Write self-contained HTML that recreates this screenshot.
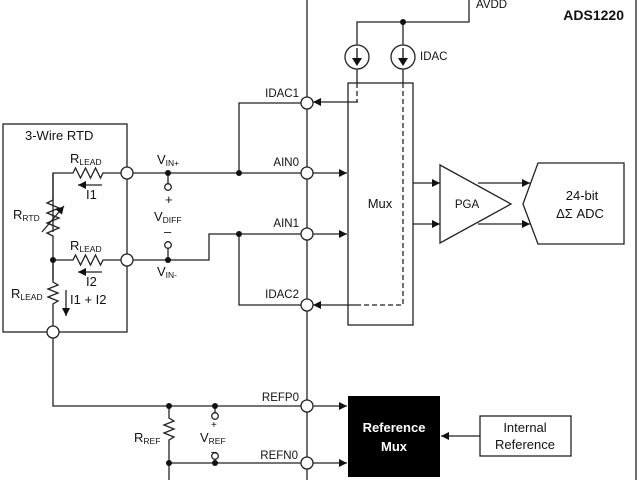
<!DOCTYPE html>
<html><head><meta charset="utf-8"><style>
html,body{margin:0;padding:0;background:#fff}
svg{display:block}
text{font-family:"Liberation Sans",Arial,sans-serif;font-size:13px;fill:#111}
.s{font-size:8.5px}
</style></head><body>
<svg width="640" height="480" viewBox="0 0 640 480" xmlns="http://www.w3.org/2000/svg">
<defs>
<marker id="a" viewBox="0 0 10 10" refX="10" refY="5" markerWidth="8" markerHeight="8" orient="auto" markerUnits="userSpaceOnUse"><path d="M0,0 L10,5 L0,10z" fill="#111"/></marker>
</defs>
<g stroke="#222" stroke-width="1.3" fill="none">
<line x1="307" y1="0" x2="307" y2="480"/>
<line x1="636" y1="0" x2="636" y2="480"/>
<rect x="3" y="124" width="124" height="208"/>
<path d="M53,232 L53,173 L73,173 l2.5,-5 l5,10 l5,-10 l5,10 l5,-10 l5,10 l2.5,-5 L127,173"/>
<line x1="102" y1="185" x2="78" y2="185" marker-end="url(#a)"/>
<path d="M53,173 L53,200 l-6,3 l12,5 l-12,5 l12,5 l-12,5 l12,5 l-12,5 l6,3 L53,280"/>
<line x1="42" y1="232" x2="64" y2="206" marker-end="url(#a)"/>
<path d="M53,260 L73,260 l2.5,-5 l5,10 l5,-10 l5,10 l5,-10 l5,10 l2.5,-5 L127,260"/>
<line x1="102" y1="272" x2="78" y2="272" marker-end="url(#a)"/>
<path d="M53,260 L53,282 l5,3 l-10,4 l10,4 l-10,4 l10,4 l-5,3 L53,326"/>
<line x1="66" y1="290" x2="66" y2="316" marker-end="url(#a)"/>
<line x1="133" y1="173" x2="301" y2="173"/>
<path d="M133,260 L209,260 L209,234 L301,234"/>
<path d="M239,173 L239,103 L301,103"/>
<path d="M239,234 L239,305 L301,305"/>
<line x1="168" y1="173" x2="168" y2="184"/>
<line x1="168" y1="248" x2="168" y2="260"/>
<path d="M53,338 L53,406 L301,406"/>
<line x1="169" y1="463" x2="301" y2="463"/>
<path d="M169,406 L169,418 l5,3 l-10,4 l10,4 l-10,4 l10,4 l-5,3 L169,480"/>
<line x1="215" y1="406" x2="215" y2="413"/>
<line x1="215" y1="459" x2="215" y2="463"/>
<path d="M357,45 L357,22 L469,22 L469,0"/>
<line x1="403" y1="22" x2="403" y2="45"/>
<circle cx="357" cy="57" r="12"/>
<circle cx="403" cy="57" r="12"/>
<line x1="357" y1="69" x2="357" y2="83"/>
<line x1="403" y1="69" x2="403" y2="83"/>
<rect x="348" y="83" width="65" height="242"/>
<path d="M357,83 L357,102" stroke-dasharray="5,3"/>
<path d="M403,83 L403,305 L358,305" stroke-dasharray="5,3"/>
<line x1="358" y1="102" x2="313" y2="102" marker-end="url(#a)"/>
<line x1="358" y1="305" x2="313" y2="305" marker-end="url(#a)"/>
<line x1="313" y1="173" x2="347" y2="173" marker-end="url(#a)"/>
<line x1="313" y1="234" x2="347" y2="234" marker-end="url(#a)"/>
<line x1="413" y1="183" x2="440" y2="183" marker-end="url(#a)"/>
<line x1="413" y1="224" x2="440" y2="224" marker-end="url(#a)"/>
<path d="M440,165 L511,204 L440,243 Z"/>
<line x1="478" y1="183" x2="530" y2="183" marker-end="url(#a)"/>
<line x1="478" y1="224" x2="530" y2="224" marker-end="url(#a)"/>
<path d="M538,163 L624,163 L624,244 L538,244 L523,204 Z"/>
<line x1="313" y1="406" x2="347" y2="406" marker-end="url(#a)"/>
<line x1="313" y1="463" x2="347" y2="463" marker-end="url(#a)"/>
<rect x="480" y="416" width="91" height="40"/>
<line x1="480" y1="436" x2="441" y2="436" marker-end="url(#a)"/>
</g>
<g stroke="#111" stroke-width="1.3">
<line x1="357" y1="48" x2="357" y2="60"/><line x1="403" y1="48" x2="403" y2="60"/>
</g>
<path d="M352,58 L362,58 L357,66Z M398,58 L408,58 L403,66Z" fill="#111"/>
<rect x="348" y="396" width="92" height="81" fill="#000"/>
<text x="394" y="432" text-anchor="middle" style="fill:#fff;font-weight:bold">Reference</text>
<text x="394" y="451" text-anchor="middle" style="fill:#fff;font-weight:bold">Mux</text>
<g fill="#fff" stroke="#222" stroke-width="1.3">
<circle cx="127" cy="173" r="6"/><circle cx="127" cy="260" r="6"/><circle cx="53" cy="332" r="6"/>
<circle cx="307" cy="103" r="6"/><circle cx="307" cy="173" r="6"/><circle cx="307" cy="234" r="6"/><circle cx="307" cy="305" r="6"/>
<circle cx="307" cy="406" r="6"/><circle cx="307" cy="463" r="6"/>
<circle cx="168" cy="187" r="3.3"/><circle cx="168" cy="245" r="3.3"/>
<circle cx="215" cy="416" r="3.3"/><circle cx="215" cy="456" r="3.3"/>
</g>
<g fill="#111">
<circle cx="53" cy="260" r="3"/><circle cx="168" cy="173" r="3"/><circle cx="168" cy="260" r="3"/>
<circle cx="239" cy="173" r="3"/><circle cx="239" cy="234" r="3"/><circle cx="403" cy="22" r="3"/>
<circle cx="169" cy="406" r="3"/><circle cx="215" cy="406" r="3"/><circle cx="169" cy="463" r="3"/><circle cx="215" cy="463" r="3"/>
</g>
<text x="25" y="140">3-Wire RTD</text>
<text x="70" y="163">R<tspan class="s" dy="2">LEAD</tspan></text>
<text x="86" y="199">I1</text>
<text x="13" y="219">R<tspan class="s" dy="2">RTD</tspan></text>
<text x="70" y="250">R<tspan class="s" dy="2">LEAD</tspan></text>
<text x="86" y="286">I2</text>
<text x="11" y="298">R<tspan class="s" dy="2">LEAD</tspan></text>
<text x="70" y="304">I1 + I2</text>
<text x="157" y="164">V<tspan class="s" dy="2">IN+</tspan></text>
<text x="165" y="204">+</text>
<text x="154" y="221">V<tspan class="s" dy="2">DIFF</tspan></text>
<text x="164" y="236">–</text>
<text x="157" y="276">V<tspan class="s" dy="2">IN-</tspan></text>
<text x="299" y="97" text-anchor="end" style="font-size:11.5px">IDAC1</text>
<text x="299" y="166" text-anchor="end" style="font-size:11.5px">AIN0</text>
<text x="299" y="227" text-anchor="end" style="font-size:11.5px">AIN1</text>
<text x="299" y="298" text-anchor="end" style="font-size:11.5px">IDAC2</text>
<text x="299" y="401" text-anchor="end" style="font-size:11.5px">REFP0</text>
<text x="298" y="459" text-anchor="end" style="font-size:11.5px">REFN0</text>
<text x="476" y="8" style="font-size:11.5px">AVDD</text>
<text x="420" y="60" style="font-size:11.5px">IDAC</text>
<text x="624" y="20" text-anchor="end" style="font-weight:bold;font-size:14px">ADS1220</text>
<text x="380" y="208" text-anchor="middle">Mux</text>
<text x="467" y="208" text-anchor="middle" style="font-size:11.5px">PGA</text>
<text x="582" y="200" text-anchor="middle">24-bit</text>
<text x="580" y="218" text-anchor="middle">ΔΣ ADC</text>
<text x="525" y="432" text-anchor="middle">Internal</text>
<text x="525" y="449" text-anchor="middle">Reference</text>
<text x="134" y="442">R<tspan class="s" dy="2">REF</tspan></text>
<text x="211" y="428" style="font-size:10px">+</text>
<text x="200" y="442">V<tspan class="s" dy="2">REF</tspan></text>
<text x="211" y="455" style="font-size:10px">–</text>
</svg>
</body></html>
